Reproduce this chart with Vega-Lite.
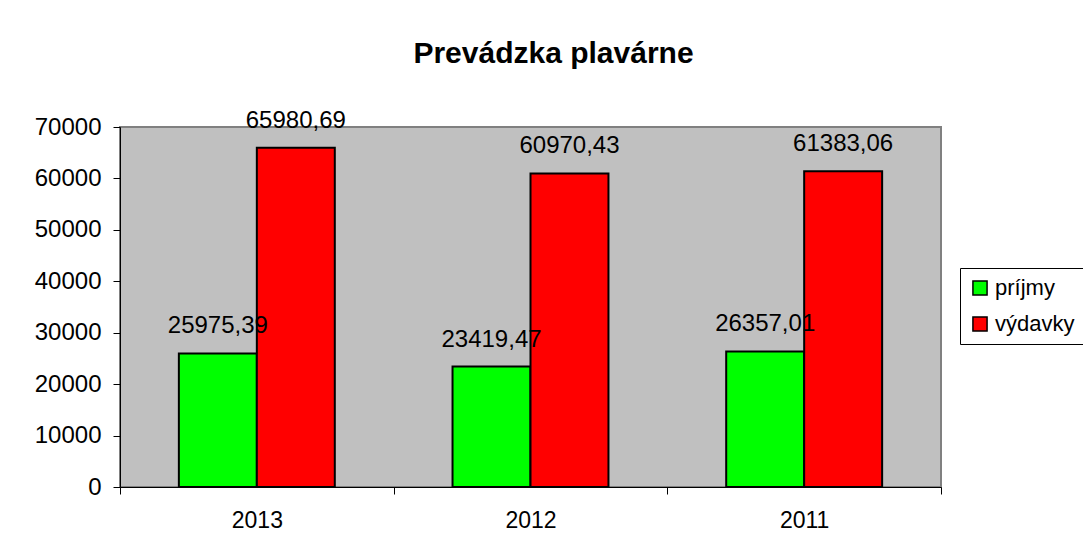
{
  "$schema": "https://vega.github.io/schema/vega-lite/v6.json",
  "width": 821,
  "height": 360,
  "autosize": {"type": "none"},
  "padding": {"left": 120, "top": 127, "right": 142, "bottom": 70},
  "background": "white",
  "title": {
    "text": "Prevádzka plavárne",
    "font": "Liberation Sans",
    "fontSize": 30,
    "fontWeight": "bold",
    "color": "black",
    "anchor": "middle",
    "dx": 23,
    "offset": 40
  },
  "data": {
    "values": [
      {"year": "2013", "kind": "príjmy", "value": 25975.39, "label": "25975,39"},
      {"year": "2013", "kind": "výdavky", "value": 65980.69, "label": "65980,69"},
      {"year": "2012", "kind": "príjmy", "value": 23419.47, "label": "23419,47"},
      {"year": "2012", "kind": "výdavky", "value": 60970.43, "label": "60970,43"},
      {"year": "2011", "kind": "príjmy", "value": 26357.01, "label": "26357,01"},
      {"year": "2011", "kind": "výdavky", "value": 61383.06, "label": "61383,06"}
    ]
  },
  "encoding": {
    "x": {
      "field": "year",
      "type": "nominal",
      "sort": ["2013", "2012", "2011"],
      "scale": {"paddingInner": 0, "paddingOuter": 0},
      "axis": {
        "title": null,
        "labelAngle": 0,
        "tickBand": "extent",
        "domainColor": "black",
        "tickColor": "black",
        "tickSize": 7,
        "labelPadding": 15,
        "labelFont": "Liberation Sans",
        "labelFontSize": 23,
        "labelColor": "black"
      }
    },
    "xOffset": {
      "field": "kind",
      "type": "nominal",
      "sort": ["príjmy", "výdavky"],
      "scale": {"paddingInner": 0, "paddingOuter": 0.755}
    },
    "y": {
      "field": "value",
      "type": "quantitative",
      "scale": {"domain": [0, 70000], "nice": false},
      "axis": {
        "title": null,
        "format": "d",
        "values": [0, 10000, 20000, 30000, 40000, 50000, 60000, 70000],
        "grid": false,
        "domainColor": "black",
        "tickColor": "black",
        "tickSize": 7,
        "labelPadding": 12,
        "labelFont": "Liberation Sans",
        "labelFontSize": 24,
        "labelColor": "black"
      }
    }
  },
  "layer": [
    {
      "mark": {"type": "bar", "stroke": "black", "strokeWidth": 2},
      "encoding": {
        "color": {
          "field": "kind",
          "type": "nominal",
          "scale": {"domain": ["príjmy", "výdavky"], "range": ["#00FF00", "#FF0000"]},
          "legend": {
            "title": null,
            "orient": "none",
            "legendX": 840,
            "legendY": 141,
            "strokeColor": "black",
            "fillColor": "white",
            "padding": 9,
            "symbolType": "square",
            "symbolSize": 200,
            "symbolStrokeColor": "black",
            "symbolStrokeWidth": 1.5,
            "symbolOpacity": 1,
            "labelFont": "Liberation Sans",
            "labelFontSize": 22,
            "labelColor": "black",
            "labelOffset": 4,
            "rowPadding": 14
          }
        }
      }
    },
    {
      "mark": {
        "type": "text",
        "font": "Liberation Sans",
        "fontSize": 24,
        "color": "black",
        "baseline": "alphabetic",
        "dy": -20
      },
      "encoding": {"text": {"field": "label"}}
    }
  ],
  "config": {
    "view": {"fill": "#C0C0C0", "stroke": "#808080", "strokeWidth": 2}
  }
}
